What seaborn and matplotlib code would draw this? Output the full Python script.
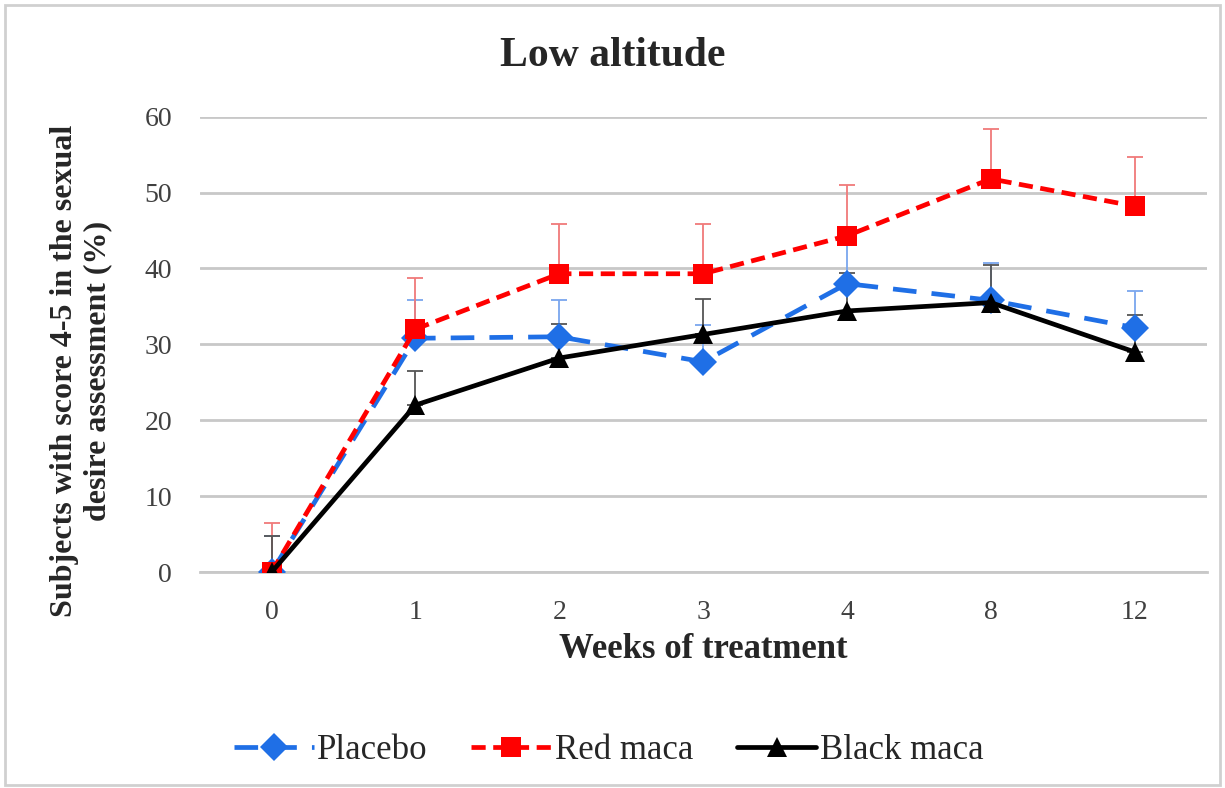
import seaborn as sns
import matplotlib.pyplot as plt
import pandas as pd
from matplotlib.patches import Rectangle

# data
weeks = ["0", "1", "2", "3", "4", "8", "12"]
placebo = [0, 30.8, 31.0, 27.7, 38.0, 35.8, 32.2]
placebo_err = [4.8, 5.0, 4.9, 4.8, 5.5, 4.9, 4.8]
red_maca = [0, 32.0, 39.3, 39.3, 44.3, 51.8, 48.2]
red_err = [6.5, 6.7, 6.5, 6.5, 6.7, 6.6, 6.5]
black_maca = [0, 22.0, 28.2, 31.3, 34.4, 35.5, 29.0]
black_err = [4.8, 4.5, 4.5, 4.7, 5.0, 4.9, 4.9]

df = pd.DataFrame({"week": weeks * 3,
                   "value": placebo + red_maca + black_maca,
                   "group": ["Placebo"] * 7 + ["Red maca"] * 7 + ["Black maca"] * 7})

sns.set_style("white")
plt.rcParams['font.family'] = ['Liberation Serif', 'DejaVu Serif']

fig = plt.figure(figsize=(12.25, 7.88), dpi=100)
ax = fig.add_axes([0.163, 0.274, 0.822, 0.578])

colors = {"Placebo": "#1f6fe6", "Red maca": "#ff0000", "Black maca": "#000000"}
errcol = {"Placebo": "#7aa6ee", "Red maca": "#f07a7a", "Black maca": "#555555"}
errs = {"Placebo": placebo_err, "Red maca": red_err, "Black maca": black_err}

# error bars (upper only), drawn under the lines
for g in ["Placebo", "Red maca", "Black maca"]:
    sub = df[df.group == g]
    ax.errorbar(sub.week, sub.value, yerr=[[0] * 7, errs[g]], fmt="none",
                ecolor=errcol[g], elinewidth=1.3, capsize=6, capthick=1.3, zorder=2)

sns.lineplot(data=df, x="week", y="value", hue="group", style="group",
             palette=colors,
             dashes={"Placebo": (5, 3.2), "Red maca": (3, 1.6), "Black maca": ""},
             markers={"Placebo": "D", "Red maca": "s", "Black maca": "^"},
             markersize=14, linewidth=3.4, markeredgewidth=0, ax=ax, zorder=3)

ax.set_ylim(0, 60)
ax.set_xlim(-0.5, 6.5)
ax.set_yticks(range(0, 61, 10))
ax.yaxis.grid(True, color="#c8c8c8", linewidth=2)
ax.set_axisbelow(True)
for s in ["top", "right", "left"]:
    ax.spines[s].set_visible(False)
ax.spines["bottom"].set_color("#c8c8c8")
ax.spines["bottom"].set_linewidth(2)
ax.tick_params(axis="both", length=0, labelsize=20, colors="#404040")
ax.tick_params(axis="y", pad=20)
ax.tick_params(axis="x", pad=20)

fig.suptitle("Low altitude", fontsize=30, fontweight="bold", y=0.953)
ax.set_xlabel("Weeks of treatment", fontsize=25, fontweight="bold", labelpad=6)
ax.set_ylabel("Subjects with score 4-5 in the sexual\ndesire assessment (%)",
              fontsize=23, fontweight="bold")
ax.yaxis.set_label_coords(-0.087, 0.442)

handles, labels = ax.get_legend_handles_labels()
ax.get_legend().remove()
fig.legend(handles, labels, loc="center", bbox_to_anchor=(0.497, 0.048), ncol=3,
           frameon=False, fontsize=25, handlelength=2.3, handletextpad=0.1,
           columnspacing=1.25)

fig.patches.append(Rectangle((0.004, 0.004), 0.992, 0.99, transform=fig.transFigure,
                             fill=False, edgecolor="#d0d0d0", linewidth=2))

fig.savefig("out.png", dpi=100)
